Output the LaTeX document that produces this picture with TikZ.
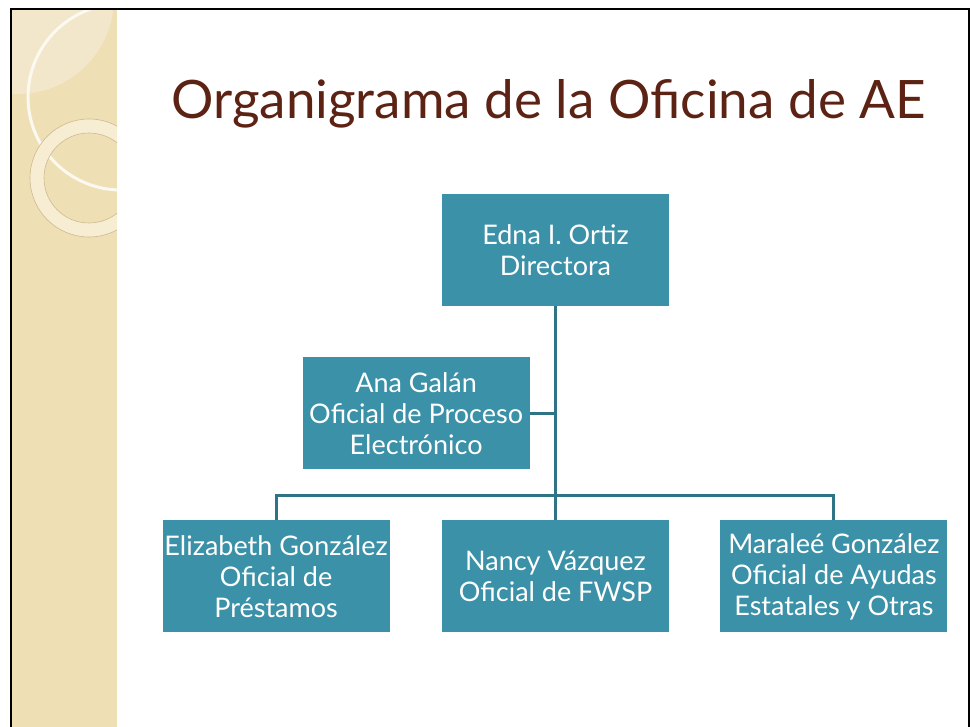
\documentclass[tikz,border=0pt]{standalone}
\usepackage{fontspec}
\setmainfont{Lato}
\usepackage{tikz}
\usetikzlibrary{positioning, graphs}
\definecolor{teal box}{RGB}{59,145,168}
\definecolor{title brown}{RGB}{92,35,20}
\definecolor{strip beige}{RGB}{239,223,181}
\definecolor{strip light}{RGB}{243,231,203}
\definecolor{ring cream}{RGB}{247,237,210}
\definecolor{ring edge}{RGB}{205,186,146}

\begin{document}
\begin{tikzpicture}[x=1pt, y=-1pt, node distance=10pt,
    person/.style={fill=teal box, text=white, minimum width=227pt, minimum height=112pt,
        inner sep=0pt, align=center, font=\fontsize{27}{31}\selectfont},
    line/.style={draw=teal box!80!black, line width=3pt}]
    \useasboundingbox (0,0) rectangle (971,727);

    % left strip
    \fill[strip beige] (12,10) rectangle (117,727);
    \begin{scope}
        \clip (12,10) rectangle (117,727);
        \fill[strip light] (18,-2) circle (96);
        \draw[white!80!strip beige, line width=3pt] (121,97) circle (93);
        \fill[ring cream, even odd rule] (89,178) circle (59) (89,178) circle (45);
        \draw[ring edge, line width=0.6pt] (89,178) circle (59) (89,178) circle (45);
    \end{scope}
    \draw[black, line width=2pt] (11,727) |- (969,9) -- (969,727);

    \node[anchor=base west, text=title brown, font=\fontsize{53}{60}\selectfont] (heading) at (168,119) {Organigrama de la Oficina de AE};

    \node[person] (director) at (555.5,250) {Edna I. Ortiz\\Directora};
    \node[person, below left=51pt and -88pt of director] (electronico) {Ana Galán\\Oficial de Proceso\\Electrónico};
    \node[person, below=214pt of director] (fwsp) {Nancy Vázquez\\Oficial de FWSP};
    \node[person, left=52pt of fwsp] (prestamos) {Elizabeth González\\Oficial de\\Préstamos};
    \node[person, right=51pt of fwsp] (ayudas) {Maraleé González\\Oficial de Ayudas\\Estatales y Otras};
    \coordinate (bar) at (0,495);

    \graph[edges=line]{(director) -- (fwsp);
    (prestamos) --[to path={-- (\tikztostart |- bar) -| (\tikztotarget)}] (ayudas);
    (electronico) --[to path={-- (\tikztostart -| \tikztotarget)}] (director)};
\end{tikzpicture}
\end{document}
